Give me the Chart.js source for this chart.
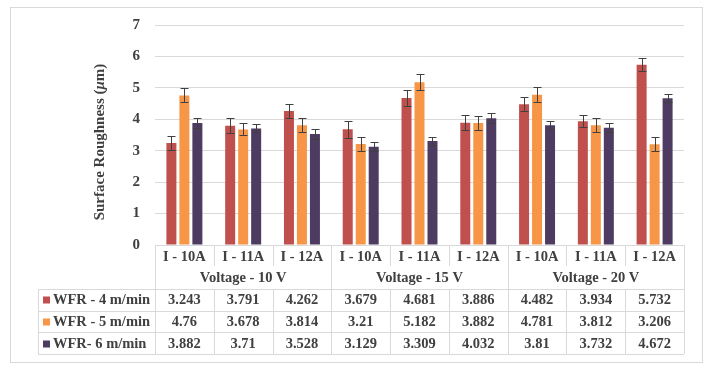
<!DOCTYPE html>
<html>
<head>
<meta charset="utf-8">
<script src="https://cdn.jsdelivr.net/npm/chart.js@4.4.1/dist/chart.umd.min.js"></script>
<style>
html,body{margin:0;padding:0;background:#fff;}
#wrap{width:717px;height:369px;position:relative;}
</style>
</head>
<body>
<div id="wrap"><canvas id="c" width="717" height="369"></canvas></div>
<script>
const categories = ['I - 10A','I - 11A','I - 12A','I - 10A','I - 11A','I - 12A','I - 10A','I - 11A','I - 12A'];
const groups = ['Voltage - 10 V','Voltage - 15 V','Voltage - 20 V'];
const seriesNames = ['WFR - 4 m/min','WFR - 5 m/min','WFR- 6 m/min'];
const wfr4 = [3.243,3.791,4.262,3.679,4.681,3.886,4.482,3.934,5.732];
const wfr5 = [4.76,3.678,3.814,3.21,5.182,3.882,4.781,3.812,3.206];
const wfr6 = [3.882,3.71,3.528,3.129,3.309,4.032,3.81,3.732,4.672];
const err4 = [0.23,0.24,0.23,0.26,0.25,0.24,0.22,0.19,0.21];
const err5 = [0.22,0.19,0.22,0.22,0.25,0.21,0.24,0.22,0.22];
const err6 = [0.17,0.13,0.15,0.14,0.12,0.16,0.12,0.14,0.12];
const yTicks = [0,1,2,3,4,5,6,7];
const colors = ['#C0504D','#F79646','#4E3B62'];

const textColor = '#404040';
const lineColor = '#D9D9D9';
const FONT = "'Liberation Serif','Times New Roman',serif";

const errorBars = {
  id:'errorBars',
  afterDatasetsDraw(chart){
    const ctx = chart.ctx, y = chart.scales.y;
    const errs = [err4,err5,err6];
    ctx.save();
    ctx.strokeStyle = '#404040';
    ctx.lineWidth = 1;
    chart.data.datasets.forEach((ds,di)=>{
      const meta = chart.getDatasetMeta(di);
      meta.data.forEach((el,i)=>{
        const v = ds.data[i], e = errs[di][i];
        const x = Math.round(el.x)+0.5;
        const y1 = Math.round(y.getPixelForValue(v+e))+0.5;
        const y2 = Math.round(y.getPixelForValue(v-e))+0.5;
        ctx.beginPath();
        ctx.moveTo(x,y1); ctx.lineTo(x,y2);
        ctx.moveTo(x-4,y1); ctx.lineTo(x+4,y1);
        ctx.moveTo(x-4,y2); ctx.lineTo(x+4,y2);
        ctx.stroke();
      });
    });
    ctx.restore();
  }
};

const tablePlugin = {
  id:'tablePlugin',
  afterDraw(chart){
    const ctx = chart.ctx, xs = chart.scales.x, ca = chart.chartArea;
    const n = categories.length;
    const colW = (ca.right-ca.left)/n;
    const edge = i => xs.getPixelForValue(i) - colW/2;
    const top = ca.bottom;
    const rowI = top+21, rowV = top+44;
    const rowH = 21.7;
    const tableLeft = 38;
    ctx.save();
    // outer border
    ctx.strokeStyle = lineColor; ctx.lineWidth = 1;
    ctx.strokeRect(10.5,7.5,692,355);
    const hline=(x1,x2,yy)=>{ctx.beginPath();ctx.moveTo(x1,Math.round(yy)+0.5);ctx.lineTo(x2,Math.round(yy)+0.5);ctx.stroke();};
    const vline=(xx,y1,y2)=>{ctx.beginPath();ctx.moveTo(Math.round(xx)+0.5,y1);ctx.lineTo(Math.round(xx)+0.5,y2);ctx.stroke();};
    hline(ca.left,ca.right,top);
    // vertical lines in category rows
    for(let i=0;i<=n;i++){
      const xx = i===n ? ca.right : edge(i);
      const full = (i%3===0);
      vline(xx, top, full ? rowV : rowI);
    }
    // table rows
    const rows = [top+44, top+44+rowH, top+44+2*rowH, top+44+3*rowH];
    rows.forEach(r=>hline(tableLeft, ca.right, r));
    vline(tableLeft, rows[0], rows[3]);
    for(let i=0;i<=n;i++){
      const xx = i===n ? ca.right : edge(i);
      vline(xx, rows[0], rows[3]);
    }
    ctx.fillStyle = textColor;
    ctx.font = "bold 14.5px "+FONT;
    ctx.textAlign='center'; ctx.textBaseline='middle';
    categories.forEach((c,i)=>ctx.fillText(c, xs.getPixelForValue(i), top+12.5));
    groups.forEach((g,gi)=>{
      const cx = (edge(gi*3) + (gi===2?ca.right:edge(gi*3+3)))/2;
      ctx.fillText(g, cx, top+33.5);
    });
    const data = [wfr4,wfr5,wfr6];
    data.forEach((arr,ri)=>{
      const cy = rows[ri]+rowH/2+0.5;
      arr.forEach((v,i)=>ctx.fillText(String(v), xs.getPixelForValue(i), cy));
      ctx.fillStyle = colors[ri];
      ctx.fillRect(43, Math.round(cy)-3.5, 7, 7);
      ctx.fillStyle = textColor;
      ctx.textAlign='left';
      ctx.fillText(seriesNames[ri], 53, cy);
      ctx.textAlign='center';
    });
    // y title with italic mu
    ctx.translate(100,142);
    ctx.rotate(-Math.PI/2);
    const parts = [['Surface Roughness (',"bold 15px "+FONT],['\u03BC',"italic bold 15px "+FONT],['m)',"bold 15px "+FONT]];
    let total=0;
    parts.forEach(p=>{ctx.font=p[1]; total+=ctx.measureText(p[0]).width;});
    let xpos=-total/2;
    ctx.textAlign='left';
    parts.forEach(p=>{ctx.font=p[1]; ctx.fillText(p[0],xpos,0); xpos+=ctx.measureText(p[0]).width;});
    ctx.restore();
  }
};

new Chart(document.getElementById('c'),{
  type:'bar',
  data:{
    labels: categories,
    datasets:[
      {label:seriesNames[0], data:wfr4, backgroundColor:colors[0]},
      {label:seriesNames[1], data:wfr5, backgroundColor:colors[1]},
      {label:seriesNames[2], data:wfr6, backgroundColor:colors[2]}
    ]
  },
  options:{
    responsive:false,
    animation:false,
    events:[],
    layout:{padding:{left:0,right:33,top:25,bottom:124}},
    datasets:{bar:{categoryPercentage:0.663,barPercentage:0.77}},
    plugins:{legend:{display:false},tooltip:{enabled:false},title:{display:false}},
    scales:{
      x:{display:false},
      y:{
        min:0,max:7,
        afterFit(s){s.width=155;},
        afterBuildTicks(s){s.ticks = yTicks.map(v=>({value:v}));},
        border:{display:false},
        grid:{color:lineColor,drawTicks:false},
        ticks:{padding:15,color:textColor,font:{family:FONT,size:15,weight:'bold'}}
      }
    }
  },
  plugins:[errorBars,tablePlugin]
});
</script>
</body>
</html>
